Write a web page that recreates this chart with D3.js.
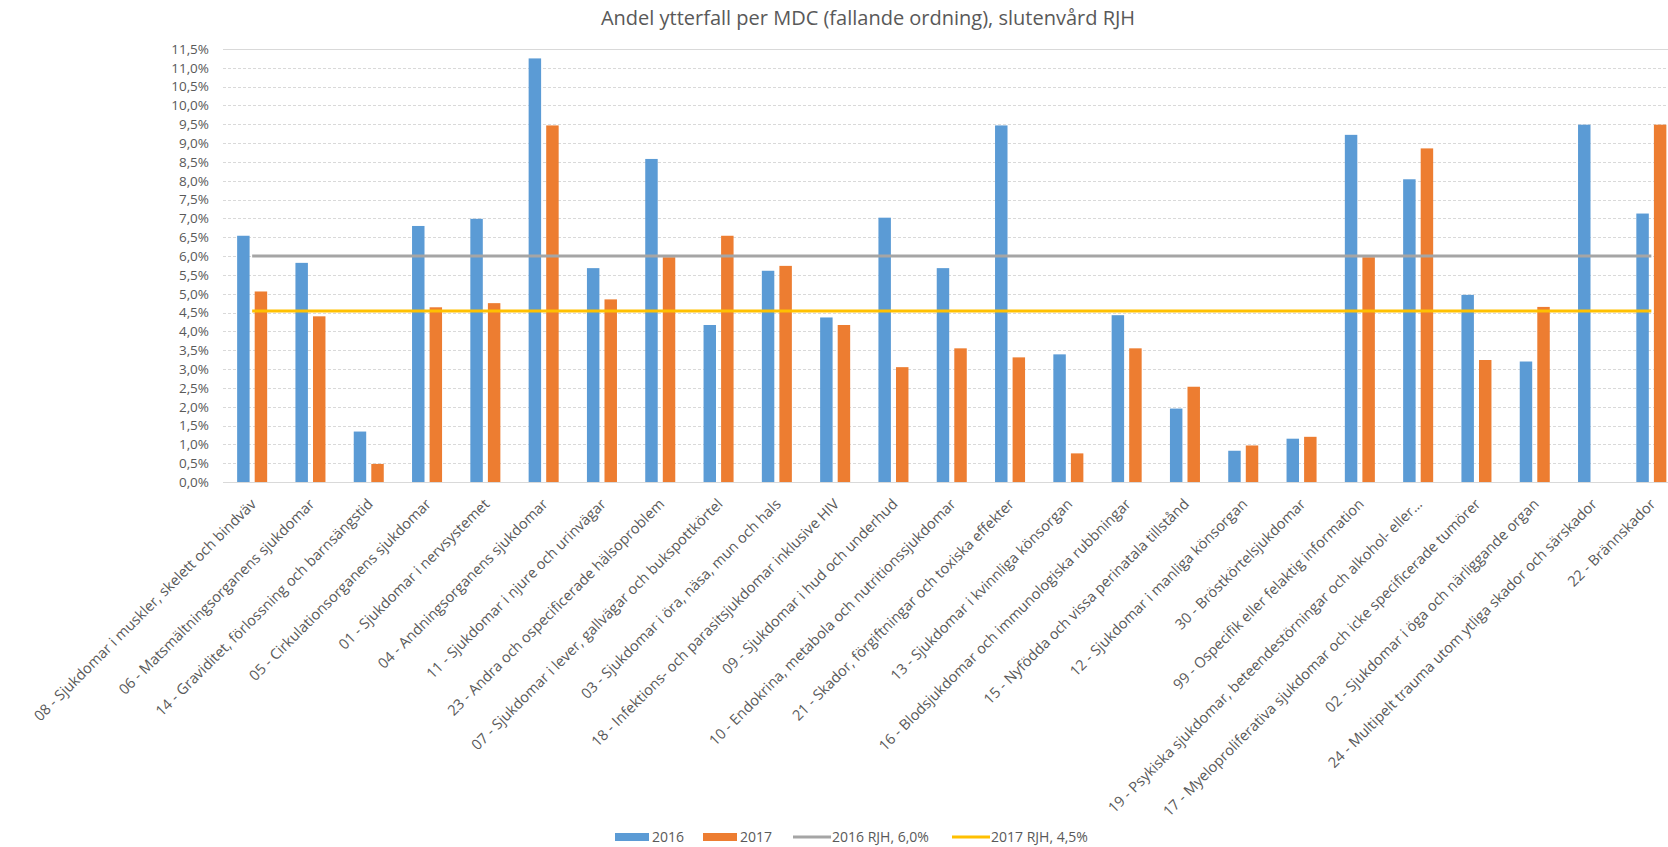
<!DOCTYPE html>
<html>
<head>
<meta charset="utf-8">
<script src="https://cdn.jsdelivr.net/npm/d3@7"></script>
<style>
  html, body { margin: 0; padding: 0; background: #fff; overflow: hidden; }
  svg { display: block; font-family: "Open Sans", sans-serif; }
</style>
</head>
<body>
<svg id="chart" width="1668" height="847"></svg>
<script>
const categories = [
  "08 - Sjukdomar i muskler, skelett och bindväv",
  "06 - Matsmältningsorganens sjukdomar",
  "14 - Graviditet, förlossning och barnsängstid",
  "05 - Cirkulationsorganens sjukdomar",
  "01 - Sjukdomar i nervsystemet",
  "04 - Andningsorganens sjukdomar",
  "11 - Sjukdomar i njure och urinvägar",
  "23 - Andra och ospecificerade hälsoproblem",
  "07 - Sjukdomar i lever, gallvägar och bukspottkörtel",
  "03 - Sjukdomar i öra, näsa, mun och hals",
  "18 - Infektions- och parasitsjukdomar inklusive HIV",
  "09 - Sjukdomar i hud och underhud",
  "10 - Endokrina, metabola och nutritionssjukdomar",
  "21 - Skador, förgiftningar och toxiska effekter",
  "13 - Sjukdomar i kvinnliga könsorgan",
  "16 - Blodsjukdomar och immunologiska rubbningar",
  "15 - Nyfödda och vissa perinatala tillstånd",
  "12 - Sjukdomar i manliga könsorgan",
  "30 - Bröstkörtelsjukdomar",
  "99 - Ospecifik eller felaktig information",
  "19 - Psykiska sjukdomar, beteendestörningar och alkohol- eller…",
  "17 - Myeloproliferativa sjukdomar och icke specificerade tumörer",
  "02 - Sjukdomar i öga och närliggande organ",
  "24 - Multipelt trauma utom ytliga skador och särskador",
  "22 - Brännskador"
];
const values2016 = [6.54, 5.82, 1.34, 6.80, 6.99, 11.25, 5.68, 8.58, 4.17, 5.61, 4.37, 7.02, 5.68, 9.47, 3.39, 4.43, 1.95, 0.83, 1.15, 9.22, 8.04, 4.97, 3.20, 9.49, 7.13];
const values2017 = [5.06, 4.40, 0.48, 4.64, 4.75, 9.47, 4.85, 5.97, 6.54, 5.74, 4.17, 3.05, 3.55, 3.31, 0.76, 3.55, 2.53, 0.97, 1.20, 5.97, 8.86, 3.24, 4.65, 0, 9.49];
const ref2016 = 6.0;
const ref2017 = 4.54;
const seriesNames = ["2016", "2017"];
const lineNames = ["2016 RJH, 6,0%", "2017 RJH, 4,5%"];
const yTicks = [0, 0.5, 1, 1.5, 2, 2.5, 3, 3.5, 4, 4.5, 5, 5.5, 6, 6.5, 7, 7.5, 8, 8.5, 9, 9.5, 10, 10.5, 11, 11.5];
const title = "Andel ytterfall per MDC (fallande ordning), slutenvård RJH";

const colors = { "2016": "#5b9bd5", "2017": "#ed7d31" };
const lineColors = ["#a5a5a5", "#ffc000"];
const textColor = "#595959";

const svg = d3.select("#chart");
const plot = { left: 223, right: 1680.5, top: 49, bottom: 482 };

const x0 = d3.scaleBand().domain(categories).range([plot.left, plot.right])
  .paddingInner(0.485).paddingOuter(0.2425);
const x1 = d3.scaleBand().domain(seriesNames).range([0, x0.bandwidth()]).paddingInner(0.29);
const y = d3.scaleLinear().domain([0, 11.5]).range([plot.bottom, plot.top]);

const loc = d3.formatLocale({ decimal: ",", thousands: " ", grouping: [3], currency: ["", " kr"] });
const fmt = v => loc.format(".1f")(v) + "%";

// Title
svg.append("text").attr("x", 868).attr("y", 25).attr("text-anchor", "middle")
  .attr("font-size", 20).attr("fill", textColor).text(title);

// Gridlines
const grid = svg.append("g");
grid.selectAll("line").data(yTicks).join("line")
  .attr("x1", plot.left).attr("x2", 1668)
  .attr("y1", d => Math.round(y(d)) + 0.5).attr("y2", d => Math.round(y(d)) + 0.5)
  .attr("stroke", "#d9d9d9").attr("stroke-width", 1)
  .attr("stroke-dasharray", d => (d === 0 || d === 11.5) ? null : "3,2");

// Y axis
const yAxis = d3.axisLeft(y).tickValues(yTicks).tickFormat(fmt).tickSize(0).tickPadding(0);
const gy = svg.append("g").attr("transform", `translate(${plot.left - 14},0)`).call(yAxis);
gy.select(".domain").remove();
gy.selectAll("text").attr("font-size", 13.5).attr("fill", textColor).attr("font-family", "Open Sans");

// Bars
const data = categories.map((c, i) => ({ cat: c, vals: [
  { key: "2016", v: values2016[i] }, { key: "2017", v: values2017[i] }] }));
const groups = svg.append("g").selectAll("g").data(data).join("g")
  .attr("transform", d => `translate(${x0(d.cat)},0)`);
groups.selectAll("rect").data(d => d.vals.filter(e => e.v > 0)).join("rect")
  .attr("x", d => x1(d.key)).attr("width", x1.bandwidth())
  .attr("y", d => y(d.v)).attr("height", d => y(0) - y(d.v))
  .attr("fill", d => colors[d.key]);

// Reference lines
const line = d3.line().x(d => x0(d) + x0.bandwidth() / 2);
[ref2016, ref2017].forEach((r, i) => {
  svg.append("path").datum(categories)
    .attr("d", line.y(() => y(r)))
    .attr("fill", "none").attr("stroke", lineColors[i]).attr("stroke-width", 3);
});

// X labels
const xl = svg.append("g");
xl.selectAll("text").data(categories).join("text")
  .attr("transform", d => `translate(${x0(d) + x0.bandwidth() / 2 + 5},${plot.bottom + 23}) rotate(-45)`)
  .attr("text-anchor", "end").attr("font-size", 14.6).attr("fill", textColor)
  .text(d => d);

// Legend
const legend = svg.append("g").attr("transform", "translate(0,837)");
const legItems = [
  { type: "rect", color: colors["2016"], label: seriesNames[0], x: 615 },
  { type: "rect", color: colors["2017"], label: seriesNames[1], x: 703 },
  { type: "line", color: lineColors[0], label: lineNames[0], x: 793 },
  { type: "line", color: lineColors[1], label: lineNames[1], x: 952 }
];
legItems.forEach(it => {
  if (it.type === "rect") {
    legend.append("rect").attr("x", it.x).attr("y", -4).attr("width", 34).attr("height", 8).attr("fill", it.color);
  } else {
    legend.append("line").attr("x1", it.x).attr("x2", it.x + 38).attr("y1", 0).attr("y2", 0)
      .attr("stroke", it.color).attr("stroke-width", 3);
  }
  legend.append("text").attr("x", it.x + (it.type === "rect" ? 37 : 39)).attr("y", 5)
    .attr("font-size", 14).attr("fill", textColor).text(it.label);
});
</script>
</body>
</html>
